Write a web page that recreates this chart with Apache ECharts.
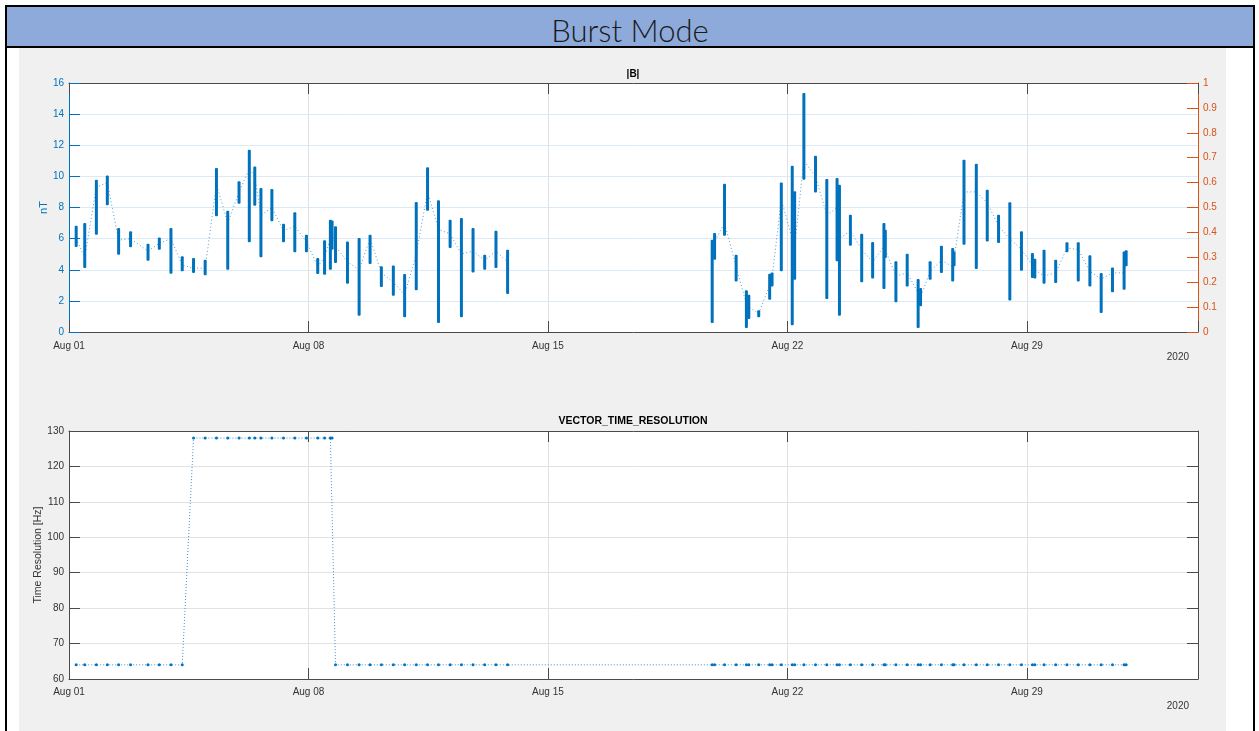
<!DOCTYPE html>
<html>
<head>
<meta charset="utf-8">
<script src="https://cdn.jsdelivr.net/npm/echarts@6/dist/echarts.min.js"></script>
<style>
  html, body { margin:0; padding:0; background:#fff; width:1259px; height:731px; overflow:hidden; }
  #frameL { position:absolute; left:5px; top:5px; width:2px; height:726px; background:#000; }
  #frameR { position:absolute; left:1253px; top:5px; width:2px; height:726px; background:#000; }
  #titleBar { position:absolute; left:5px; top:5px; width:1246px; height:39px; background:#8EAADB;
              border:2px solid #000; text-align:center; font-family:"Lato","Open Sans",sans-serif; font-weight:300;
              font-size:31px; line-height:46px; color:#1a1a1a; overflow:hidden; }
  #panel { position:absolute; left:19px; top:48px; width:1207px; height:683px; background:#F0F0F0; }
  #chart { position:absolute; left:0; top:0; width:1259px; height:731px; }
</style>
</head>
<body>
<div id="panel"></div>
<div id="frameL"></div>
<div id="frameR"></div>
<div id="titleBar">Burst Mode</div>
<div id="chart"></div>
<script>
// ---- Data (days since Aug 01 2020, 00:00) ----
const xTickLabels = ['Aug 01', 'Aug 08', 'Aug 15', 'Aug 22', 'Aug 29'];
const yearLabel = '2020';

// |B| bursts: time, min, max, and the level where the dotted trace joins
const burstDay = [0.21,0.46,0.80,1.12,1.45,1.80,2.31,2.64,2.98,3.31,3.64,3.98,4.31,4.64,4.97,5.27,5.43,5.61,5.93,6.27,
  6.60,6.94,7.27,7.47,7.64,7.69,7.79,8.14,8.48,8.80,9.13,9.48,9.81,10.15,10.48,10.80,11.14,11.47,11.81,12.15,
  12.48,12.82,18.80,18.87,19.16,19.50,19.80,19.87,20.16,20.48,20.55,20.82,21.14,21.21,21.48,21.82,22.15,22.45,22.52,22.84,
  23.17,23.49,23.82,23.86,24.17,24.50,24.82,24.89,25.17,25.50,25.83,25.87,26.16,26.52,26.84,27.17,27.50,27.84,28.16,28.23,
  28.50,28.84,29.17,29.50,29.84,30.17,30.50,30.84,30.90];
const burstLow = [5.46,4.11,6.25,8.14,4.97,5.44,4.58,5.29,3.75,3.90,3.79,3.64,7.43,4.00,8.24,5.76,8.12,4.80,7.11,5.76,
  5.12,5.12,3.73,3.68,4.00,5.29,4.43,3.10,1.05,4.37,2.89,2.33,0.94,2.68,7.79,0.58,5.40,0.94,3.83,4.00,
  4.11,2.44,0.58,4.65,6.19,3.25,0.26,0.84,0.94,2.08,2.93,3.90,0.43,3.36,9.79,8.97,2.12,4.54,1.05,5.55,
  3.19,3.43,2.76,4.75,1.91,2.93,0.26,1.65,3.36,3.79,3.25,4.22,5.61,4.05,5.82,5.72,2.03,3.94,3.47,3.43,
  3.10,3.15,5.12,3.25,2.93,1.22,2.55,2.72,4.22];
const burstHigh = [6.83,7.00,9.79,10.06,6.68,6.47,5.67,6.08,6.68,4.86,4.75,4.65,10.54,7.79,9.68,11.71,10.64,9.25,9.19,6.96,
  7.69,6.25,4.75,5.89,7.22,7.17,6.79,5.82,6.04,6.25,4.22,4.28,3.73,8.35,10.58,8.46,7.22,7.32,6.68,4.97,
  6.51,5.29,5.93,6.36,9.53,4.97,2.68,2.40,1.39,3.75,3.83,9.61,10.69,9.04,15.35,11.33,9.83,9.89,9.46,7.54,
  6.32,5.78,7.00,6.57,4.54,5.03,3.40,2.83,4.54,5.55,5.40,5.18,11.07,10.81,9.14,7.54,8.33,6.47,5.07,4.71,
  5.29,4.65,5.76,5.76,4.93,3.79,4.15,5.18,5.25];
const burstJoin = [6.0,4.8,9.3,9.6,5.9,6.0,5.2,5.7,6.0,4.3,4.1,4.1,9.5,7.0,9.0,10.5,10.0,7.5,8.0,6.5,
  6.8,5.8,4.2,4.8,6.0,6.5,5.5,4.5,4.0,6.0,3.8,3.2,2.4,5.0,9.0,6.6,6.3,5.0,5.2,4.6,
  5.2,4.5,5.0,5.8,7.0,4.2,1.8,1.6,1.2,3.0,3.5,8.5,6.0,5.5,11.0,10.0,7.5,8.0,6.0,6.5,
  5.3,4.5,5.5,5.5,3.6,3.8,2.5,2.2,3.9,4.6,4.2,4.7,9.0,9.0,8.3,6.8,6.0,5.3,4.3,4.0,
  3.6,3.8,5.4,5.3,3.9,3.4,3.8,3.8,4.8];
// VECTOR_TIME_RESOLUTION (Hz), one value per burst above
const resHz = [64,64,64,64,64,64,64,64,64,64,128,128,128,128,128,128,128,128,128,128,
  128,128,128,128,128,128,64,64,64,64,64,64,64,64,64,64,64,64,64,64,
  64,64,64,64,64,64,64,64,64,64,64,64,64,64,64,64,64,64,64,64,
  64,64,64,64,64,64,64,64,64,64,64,64,64,64,64,64,64,64,64,64,
  64,64,64,64,64,64,64,64,64];
const dataGapAfter = 12.82;   // no |B| data until Aug 19.8

// ---- Chart ----
const BLUE = '#0072BD', ORANGE = '#D95319', AX = '#4a4a4a', TXT = '#333333';
const FONT = '"Liberation Sans", Arial, sans-serif';
const chart = echarts.init(document.getElementById('chart'), null, { renderer: 'canvas' });

const xLabel = v => {
  const k = Math.round(v / 7);
  return (Math.abs(v - k * 7) < 1e-6 && k < xTickLabels.length) ? xTickLabels[k] : '';
};

function xAxisPair(grid, labelMargin) {
  return [
    { type: 'value', gridIndex: grid, min: 0, max: 33, interval: 7, position: 'bottom',
      axisLine: { show: true, onZero: false, lineStyle: { color: AX, width: 1 } },
      axisTick: { show: true, inside: true, length: 11, lineStyle: { color: AX } },
      axisLabel: { formatter: xLabel, color: TXT, fontSize: 10, fontFamily: FONT, margin: labelMargin },
      splitLine: { show: true, lineStyle: { color: '#E2E2E2', width: 1 } } },
    { type: 'value', gridIndex: grid, min: 0, max: 33, interval: 7, position: 'top',
      axisLine: { show: true, onZero: false, lineStyle: { color: AX, width: 1 } },
      axisTick: { show: true, inside: true, length: 11, lineStyle: { color: AX } },
      axisLabel: { show: false }, splitLine: { show: false } }
  ];
}

const lineData = [];
burstDay.forEach((d, i) => {
  lineData.push([d, burstJoin[i]]);
  if (d === dataGapAfter) lineData.push([d, null]);
});

const option = {
  backgroundColor: 'transparent',
  animation: false,
  grid: [
    { left: 69, top: 83, width: 1129, height: 249, show: true, backgroundColor: '#ffffff', borderWidth: 0 },
    { left: 69, top: 431, width: 1129, height: 248, show: true, backgroundColor: '#ffffff', borderWidth: 0 }
  ],
  xAxis: [...xAxisPair(0, 9), ...xAxisPair(1, 8)],
  yAxis: [
    { type: 'value', gridIndex: 0, min: 0, max: 16, interval: 2, position: 'left',
      name: 'nT', nameLocation: 'middle', nameGap: 20, nameRotate: 90, nameMoveOverlap: false,
      nameTextStyle: { color: BLUE, fontSize: 11, fontFamily: FONT },
      axisLine: { show: true, onZero: false, lineStyle: { color: BLUE, width: 1 } },
      axisTick: { show: true, inside: true, length: 11, lineStyle: { color: BLUE } },
      axisLabel: { color: BLUE, fontSize: 10, fontFamily: FONT, margin: 5 },
      splitLine: { show: true, lineStyle: { color: '#DCEAF5', width: 1 } } },
    { type: 'value', gridIndex: 0, min: 0, max: 1, interval: 0.1, position: 'right',
      axisLine: { show: true, onZero: false, lineStyle: { color: ORANGE, width: 1 } },
      axisTick: { show: true, inside: true, length: 11, lineStyle: { color: ORANGE } },
      axisLabel: { color: ORANGE, fontSize: 10, fontFamily: FONT, margin: 5,
                   formatter: v => String(Math.round(v * 10) / 10) },
      splitLine: { show: false } },
    { type: 'value', gridIndex: 1, min: 60, max: 130, interval: 10, position: 'left',
      name: 'Time Resolution [Hz]', nameLocation: 'middle', nameGap: 25, nameRotate: 90, nameMoveOverlap: false,
      nameTextStyle: { color: TXT, fontSize: 10.5, fontFamily: FONT },
      axisLine: { show: true, onZero: false, lineStyle: { color: AX, width: 1 } },
      axisTick: { show: true, inside: true, length: 11, lineStyle: { color: AX } },
      axisLabel: { color: TXT, fontSize: 10, fontFamily: FONT, margin: 5 },
      splitLine: { show: true, lineStyle: { color: '#E2E2E2', width: 1 } } },
    { type: 'value', gridIndex: 1, min: 60, max: 130, interval: 10, position: 'right',
      axisLine: { show: true, onZero: false, lineStyle: { color: AX, width: 1 } },
      axisTick: { show: true, inside: true, length: 11, lineStyle: { color: AX } },
      axisLabel: { show: false }, splitLine: { show: false } }
  ],
  graphic: [
    { type: 'text', x: 633, y: 74, style: { text: '|B|', align: 'center', verticalAlign: 'middle',
      font: 'bold 10px ' + FONT, fill: '#000' } },
    { type: 'text', x: 633, y: 421, style: { text: 'VECTOR_TIME_RESOLUTION', align: 'center', verticalAlign: 'middle',
      font: 'bold 10.5px ' + FONT, fill: '#000' } },
    { type: 'text', x: 1189, y: 357, style: { text: yearLabel, align: 'right', verticalAlign: 'middle',
      font: '10px ' + FONT, fill: TXT } },
    { type: 'text', x: 1189, y: 706, style: { text: yearLabel, align: 'right', verticalAlign: 'middle',
      font: '10px ' + FONT, fill: TXT } }
  ],
  series: [
    { type: 'line', name: 'join', xAxisIndex: 0, yAxisIndex: 0, data: lineData, symbol: 'none',
      connectNulls: false, z: 2,
      lineStyle: { color: '#4f9ad4', width: 1, type: [1, 2.5] } },
    { type: 'custom', name: '|B|', xAxisIndex: 0, yAxisIndex: 0, z: 3,
      data: burstDay.map((d, i) => [d, burstLow[i], burstHigh[i]]),
      encode: { x: 0, y: [1, 2] },
      renderItem: (params, api) => {
        const lo = api.coord([api.value(0), api.value(1)]);
        const hi = api.coord([api.value(0), api.value(2)]);
        return { type: 'rect', shape: { x: lo[0] - 1.5, y: hi[1], width: 3, height: lo[1] - hi[1], r: 1 },
                 style: { fill: BLUE } };
      } },
    { type: 'line', name: 'VECTOR_TIME_RESOLUTION', xAxisIndex: 2, yAxisIndex: 2,
      data: burstDay.map((d, i) => [d, resHz[i]]),
      symbol: 'circle', symbolSize: 3, showAllSymbol: true,
      itemStyle: { color: BLUE },
      lineStyle: { color: '#3f8fd0', width: 1, type: [1, 2] } }
  ]
};
chart.setOption(option);
</script>
</body>
</html>
